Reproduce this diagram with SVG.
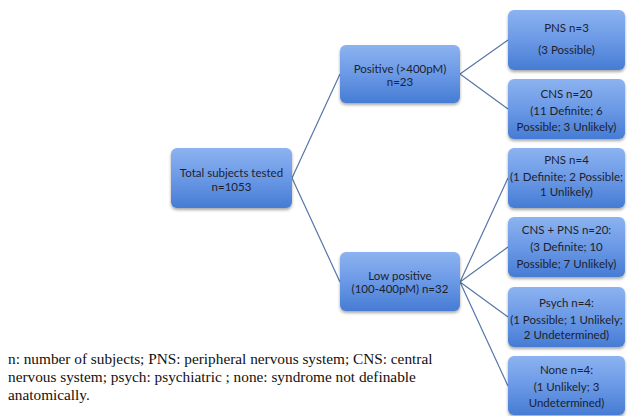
<svg xmlns="http://www.w3.org/2000/svg" width="627" height="416" viewBox="0 0 627 416">
<defs>
<linearGradient id="g" x1="0" y1="0" x2="0" y2="1">
<stop offset="0" stop-color="#8cb3f0"/>
<stop offset="0.5" stop-color="#6b99e6"/>
<stop offset="1" stop-color="#467cd4"/>
</linearGradient>
<filter id="sh" x="-10%" y="-10%" width="120%" height="130%">
<feDropShadow dx="0" dy="2" stdDeviation="1.5" flood-color="#000" flood-opacity="0.35"/>
</filter>
<style>
.box{fill:url(#g);filter:url(#sh);}
.t{font-family:Lato,"Open Sans","Liberation Sans",sans-serif;font-size:11.5px;fill:#1c1f2e;text-anchor:middle;}
.c{stroke:#5677a8;stroke-width:1.2;fill:none;}
</style>
</defs>
<rect width="627" height="416" fill="#fff"/>
<g id="connectors">
<path class="c" d="M292 178 L340 74 M292 178 L340 282"/>
<path class="c" d="M460 74 L508 40 M460 74 L508 109"/>
<path class="c" d="M460 282 L508 178 M460 282 L508 247 M460 282 L508 317 M460 282 L508 386"/>
</g>
<g id="root">
<rect class="box" x="171" y="148" width="121" height="60" rx="6"/>
<text class="t" x="231.5" y="177">Total subjects tested</text>
<text class="t" x="231.5" y="191">n=1053</text>
</g>
<g id="positive">
<rect class="box" x="340" y="45" width="120" height="58" rx="6"/>
<text class="t" x="400" y="73">Positive (&gt;400pM)</text>
<text class="t" x="400" y="86">n=23</text>
</g>
<g id="lowpositive">
<rect class="box" x="340" y="252" width="120" height="59" rx="6"/>
<text class="t" x="400" y="280">Low positive</text>
<text class="t" x="400" y="293">(100-400pM) n=32</text>
</g>
<g id="pns1">
<rect class="box" x="508" y="10" width="117" height="60" rx="6"/>
<text class="t" x="566.5" y="32">PNS n=3</text>
<text class="t" x="566.5" y="54">(3 Possible)</text>
</g>
<g id="cns">
<rect class="box" x="508" y="79" width="117" height="60" rx="6"/>
<text class="t" x="566.5" y="98">CNS n=20</text>
<text class="t" x="566.5" y="115">(11 Definite; 6</text>
<text class="t" x="566.5" y="131">Possible; 3 Unlikely)</text>
</g>
<g id="pns2">
<rect class="box" x="508" y="148" width="117" height="60" rx="6"/>
<text class="t" x="566.5" y="164">PNS n=4</text>
<text class="t" x="566.5" y="181">(1 Definite; 2 Possible;</text>
<text class="t" x="566.5" y="196">1 Unlikely)</text>
</g>
<g id="cnspns">
<rect class="box" x="508" y="217" width="117" height="60" rx="6"/>
<text class="t" x="566.5" y="234">CNS + PNS n=20:</text>
<text class="t" x="566.5" y="251">(3 Definite; 10</text>
<text class="t" x="566.5" y="268">Possible; 7 Unlikely)</text>
</g>
<g id="psych">
<rect class="box" x="508" y="287" width="117" height="60" rx="6"/>
<text class="t" x="566.5" y="307">Psych n=4:</text>
<text class="t" x="566.5" y="324">(1 Possible; 1 Unlikely;</text>
<text class="t" x="566.5" y="339">2 Undetermined)</text>
</g>
<g id="none">
<rect class="box" x="508" y="356" width="117" height="59" rx="6"/>
<text class="t" x="566.5" y="374">None n=4:</text>
<text class="t" x="566.5" y="391">(1 Unlikely; 3</text>
<text class="t" x="566.5" y="407">Undetermined)</text>
</g>
<g id="legend" font-family="'Liberation Serif', 'Times New Roman', serif" font-size="15.3" fill="#111">
<text x="8" y="364">n: number of subjects; PNS: peripheral nervous system; CNS: central</text>
<text x="8" y="382">nervous system; psych: psychiatric ; none: syndrome not definable</text>
<text x="8" y="400">anatomically.</text>
</g>
</svg>
